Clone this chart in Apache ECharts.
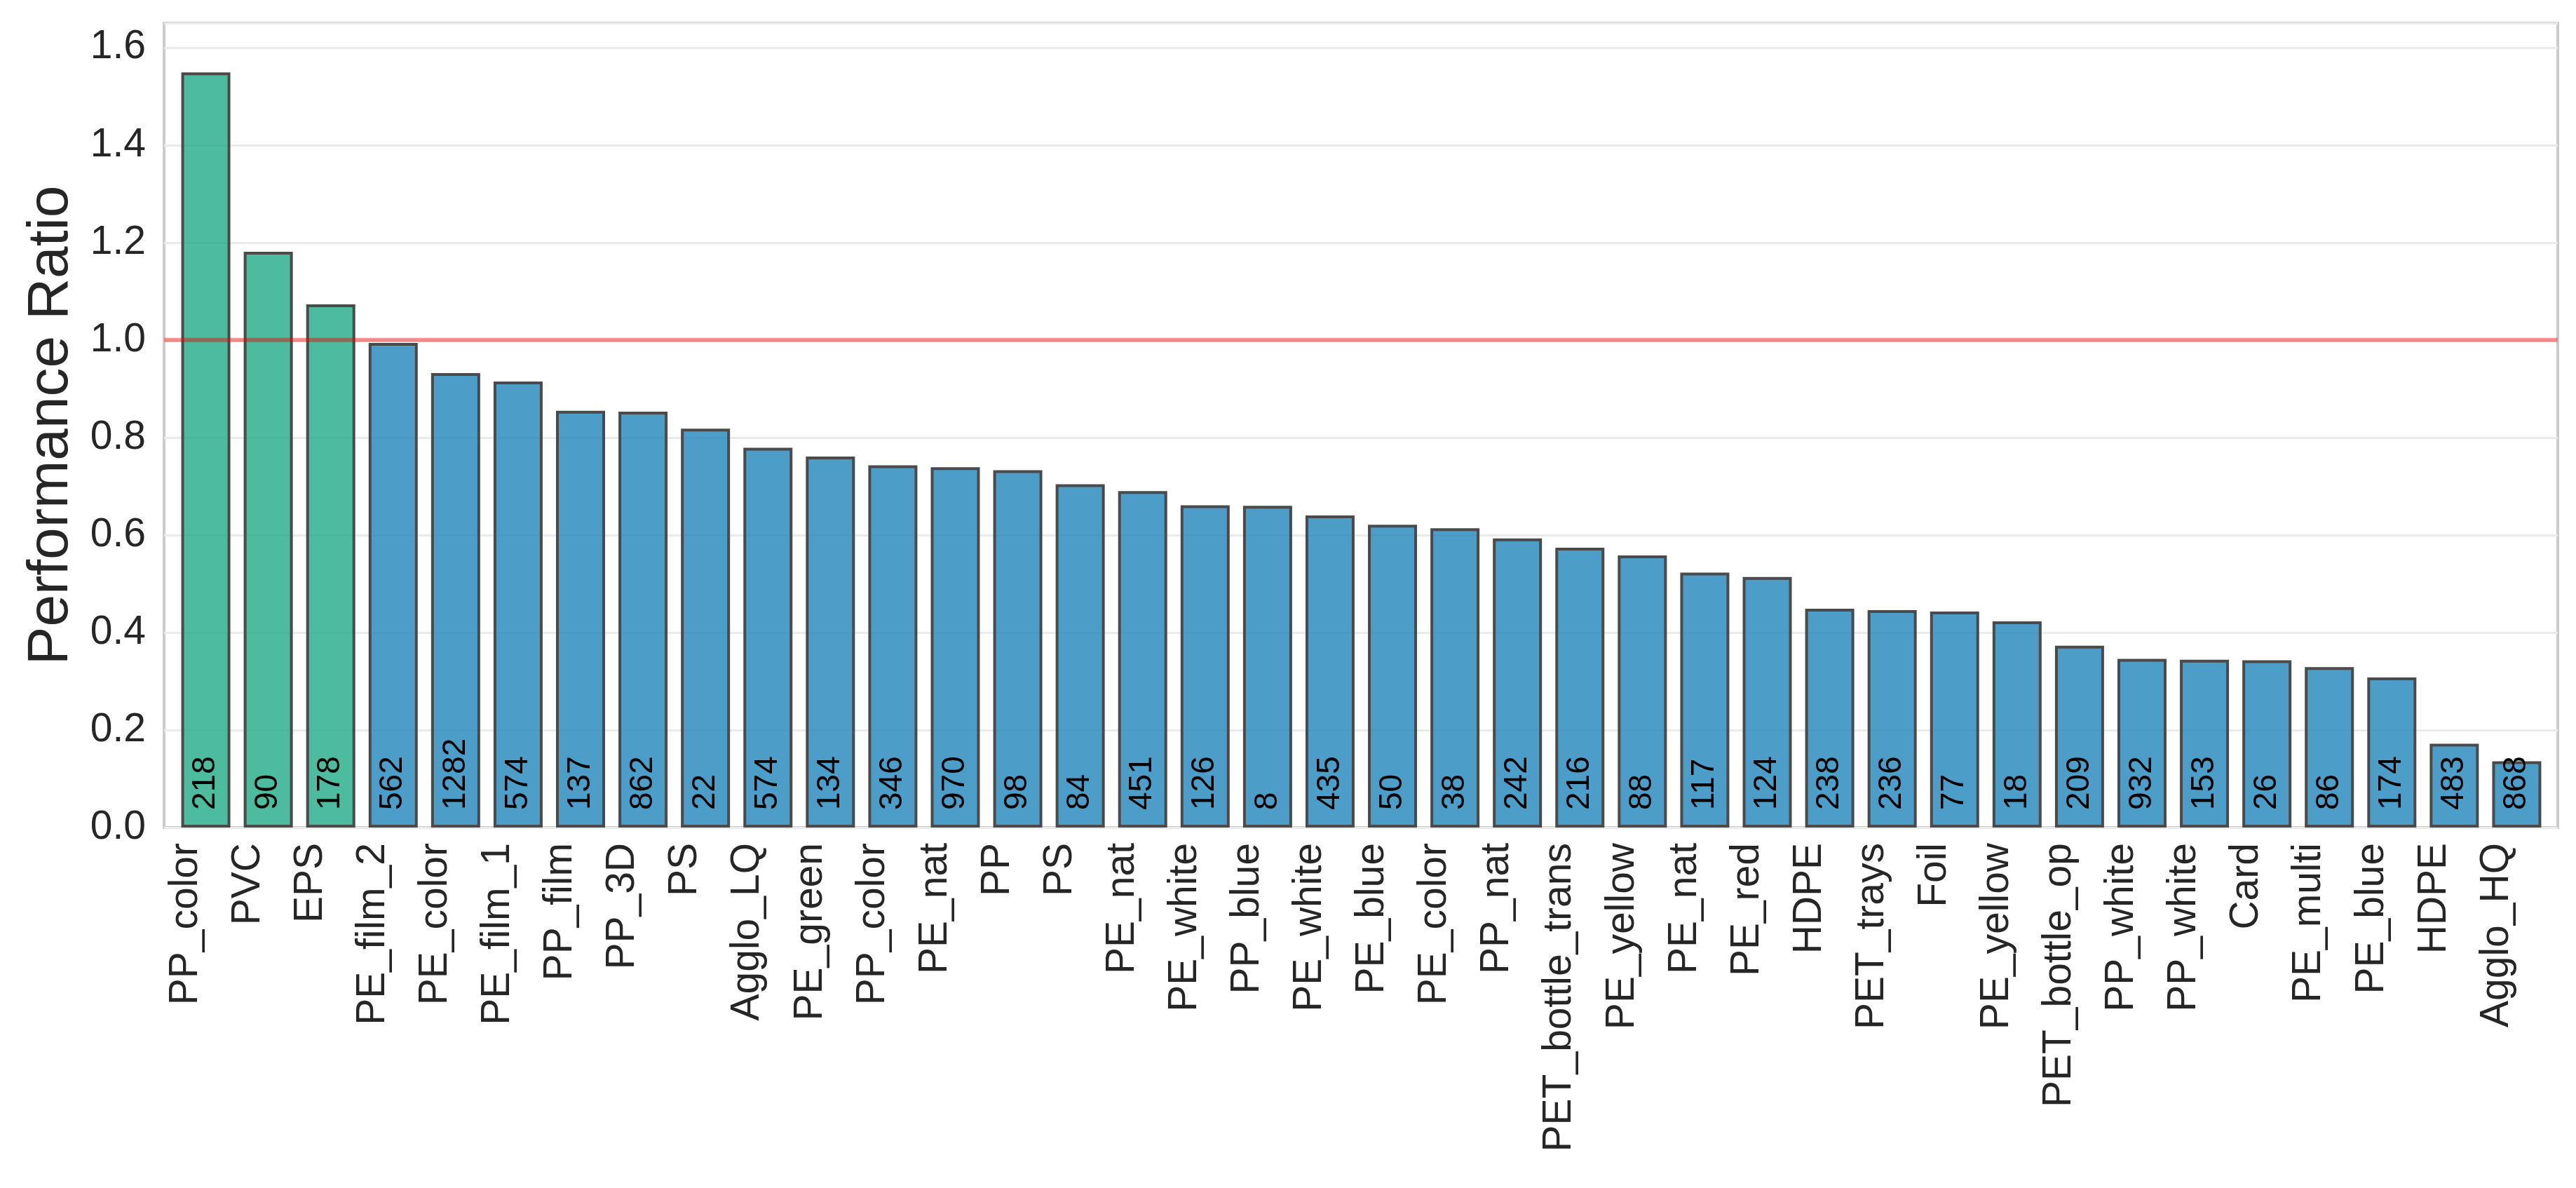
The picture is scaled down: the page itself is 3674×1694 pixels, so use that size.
<!DOCTYPE html>
<html>
<head>
<meta charset="utf-8">
<script src="https://cdn.jsdelivr.net/npm/echarts@6/dist/echarts.min.js"></script>
<style>
  html, body { margin: 0; padding: 0; background: #ffffff; }
  #chart { width: 3674px; height: 1694px; }
</style>
</head>
<body>
<div id="chart"></div>
<script>
const categories = [
  'PP_color', 'PVC', 'EPS', 'PE_film_2', 'PE_color', 'PE_film_1', 'PP_film', 'PP_3D', 'PS', 'Agglo_LQ',
  'PE_green', 'PP_color', 'PE_nat', 'PP', 'PS', 'PE_nat', 'PE_white', 'PP_blue', 'PE_white', 'PE_blue',
  'PE_color', 'PP_nat', 'PET_bottle_trans', 'PE_yellow', 'PE_nat', 'PE_red', 'HDPE', 'PET_trays', 'Foil', 'PE_yellow',
  'PET_bottle_op', 'PP_white', 'PP_white', 'Card', 'PE_multi', 'PE_blue', 'HDPE', 'Agglo_HQ'
];
const ratios = [
  1.549, 1.181, 1.073, 0.994, 0.932, 0.915, 0.855, 0.853, 0.818, 0.779,
  0.761, 0.743, 0.739, 0.733, 0.704, 0.690, 0.661, 0.660, 0.640, 0.621,
  0.614, 0.593, 0.574, 0.558, 0.523, 0.514, 0.449, 0.446, 0.443, 0.423,
  0.373, 0.346, 0.344, 0.343, 0.329, 0.308, 0.172, 0.136
];
const counts = [
  218, 90, 178, 562, 1282, 574, 137, 862, 22, 574,
  134, 346, 970, 98, 84, 451, 126, 8, 435, 50,
  38, 242, 216, 88, 117, 124, 238, 236, 77, 18,
  209, 932, 153, 26, 86, 174, 483, 868
];
const referenceRatio = 1.0;
const yTicks = [0.0, 0.2, 0.4, 0.6, 0.8, 1.0, 1.2, 1.4, 1.6];

const GREEN = 'rgba(33,170,133,0.8)';
const BLUE = 'rgba(31,132,186,0.8)';
const FONT = 'Liberation Sans, Arial, sans-serif';
const Y_MAX = 1.65;

const chart = echarts.init(document.getElementById('chart'), null, { renderer: 'canvas' });

const option = {
  backgroundColor: '#ffffff',
  animation: false,
  grid: [
    { left: 234, right: 26, top: 33, bottom: 514, show: true, borderColor: '#cccccc', borderWidth: 4, backgroundColor: 'transparent' },
    { left: 249, right: 40, top: 33, bottom: 514 }
  ],
  xAxis: [
    { gridIndex: 0, type: 'value', min: 0, max: 1, show: false },
    {
      gridIndex: 1, type: 'category', data: categories,
      axisLine: { show: false }, axisTick: { show: false },
      axisLabel: {
        interval: 0, rotate: 90, margin: 22, fontSize: 57, color: '#262626',
        fontFamily: FONT, verticalAlign: 'bottom'
      }
    }
  ],
  yAxis: [
    {
      gridIndex: 0, type: 'value', min: 0, max: Y_MAX, interval: 0.2,
      name: 'Performance Ratio', nameLocation: 'middle', nameGap: 120,
      nameTextStyle: { fontSize: 82, color: '#262626', fontFamily: FONT },
      axisLine: { show: false }, axisTick: { show: false },
      axisLabel: {
        margin: 26, fontSize: 57, color: '#262626', fontFamily: FONT, showMaxLabel: false,
        formatter: function (v) {
          const t = yTicks.find(function (x) { return Math.abs(x - v) < 1e-6; });
          return t === undefined ? '' : t.toFixed(1);
        }
      },
      splitLine: { show: true, lineStyle: { color: '#ebebeb', width: 3 } }
    },
    { gridIndex: 1, type: 'value', min: 0, max: Y_MAX, show: false, splitLine: { show: false } }
  ],
  series: [
    {
      type: 'bar', xAxisIndex: 1, yAxisIndex: 1, barWidth: 70, z: 3,
      data: ratios.map(function (v) {
        return { value: v, itemStyle: { color: v > referenceRatio ? GREEN : BLUE } };
      }),
      itemStyle: { borderColor: '#4a4a4a', borderWidth: 4 },
      label: {
        show: true, position: 'insideBottom', distance: 25, rotate: 90,
        align: 'left', verticalAlign: 'middle',
        fontSize: 46, color: '#000000', fontFamily: FONT,
        formatter: function (p) { return String(counts[p.dataIndex]); }
      }
    },
    {
      type: 'line', xAxisIndex: 0, yAxisIndex: 0, z: 6, symbol: 'none', silent: true,
      data: [[0, referenceRatio], [1, referenceRatio]],
      lineStyle: { color: 'rgba(240,0,0,0.42)', width: 6 }
    }
  ]
};
chart.setOption(option);
</script>
</body>
</html>
